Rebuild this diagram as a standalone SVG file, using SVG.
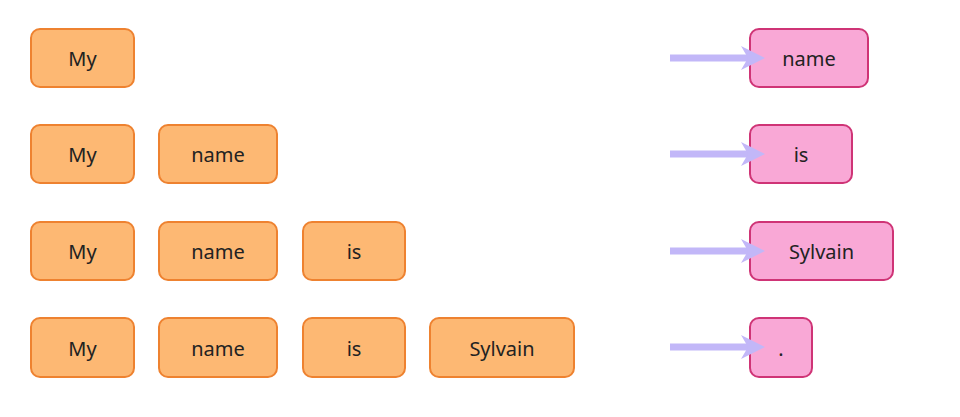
<svg xmlns="http://www.w3.org/2000/svg" width="960" height="417" viewBox="0 0 960 417">
<style>
.o rect{fill:#fdb873;stroke:#ee8230;stroke-width:2}
.p rect{fill:#f9a8d6;stroke:#cf3476;stroke-width:2}
text{font-family:"Noto Sans","Open Sans",sans-serif;font-size:20px;fill:#222;text-anchor:middle;dominant-baseline:central}
.c line{stroke:#c2b7f8;stroke-width:7}
.c path{fill:#c2b7f8}
</style>
<rect width="960" height="417" fill="#fff"/>
<g id="r1-my" class="o"><rect x="31" y="29" width="103" height="58" rx="9"/><text x="82.5" y="58">My</text></g>
<g id="r2-my" class="o"><rect x="31" y="125" width="103" height="58" rx="9"/><text x="82.5" y="154">My</text></g>
<g id="r2-name" class="o"><rect x="159" y="125" width="118" height="58" rx="9"/><text x="218" y="154">name</text></g>
<g id="r3-my" class="o"><rect x="31" y="222" width="103" height="58" rx="9"/><text x="82.5" y="251">My</text></g>
<g id="r3-name" class="o"><rect x="159" y="222" width="118" height="58" rx="9"/><text x="218" y="251">name</text></g>
<g id="r3-is" class="o"><rect x="303" y="222" width="102" height="58" rx="9"/><text x="354" y="251">is</text></g>
<g id="r4-my" class="o"><rect x="31" y="318" width="103" height="59" rx="9"/><text x="82.5" y="348">My</text></g>
<g id="r4-name" class="o"><rect x="159" y="318" width="118" height="59" rx="9"/><text x="218" y="348">name</text></g>
<g id="r4-is" class="o"><rect x="303" y="318" width="102" height="59" rx="9"/><text x="354" y="348">is</text></g>
<g id="r4-sylvain" class="o"><rect x="430" y="318" width="144" height="59" rx="9"/><text x="502" y="348">Sylvain</text></g>
<g id="t1-name" class="p"><rect x="750" y="29" width="118" height="58" rx="9"/><text x="809" y="58">name</text></g>
<g id="t2-is" class="p"><rect x="750" y="125" width="102" height="58" rx="9"/><text x="801" y="154">is</text></g>
<g id="t3-sylvain" class="p"><rect x="750" y="222" width="143" height="58" rx="9"/><text x="821.5" y="251">Sylvain</text></g>
<g id="t4-dot" class="p"><rect x="750" y="318" width="62" height="59" rx="9"/><text x="781" y="348">.</text></g>
<g id="connectors" class="c">
<line x1="670" y1="58" x2="748" y2="58"/><path d="M741,46 L765,58 L741,70 L748,58 Z"/>
<line x1="670" y1="154" x2="748" y2="154"/><path d="M741,142 L765,154 L741,166 L748,154 Z"/>
<line x1="670" y1="251" x2="748" y2="251"/><path d="M741,239 L765,251 L741,263 L748,251 Z"/>
<line x1="670" y1="347" x2="748" y2="347"/><path d="M741,335 L765,347 L741,359 L748,347 Z"/>
</g>
</svg>
